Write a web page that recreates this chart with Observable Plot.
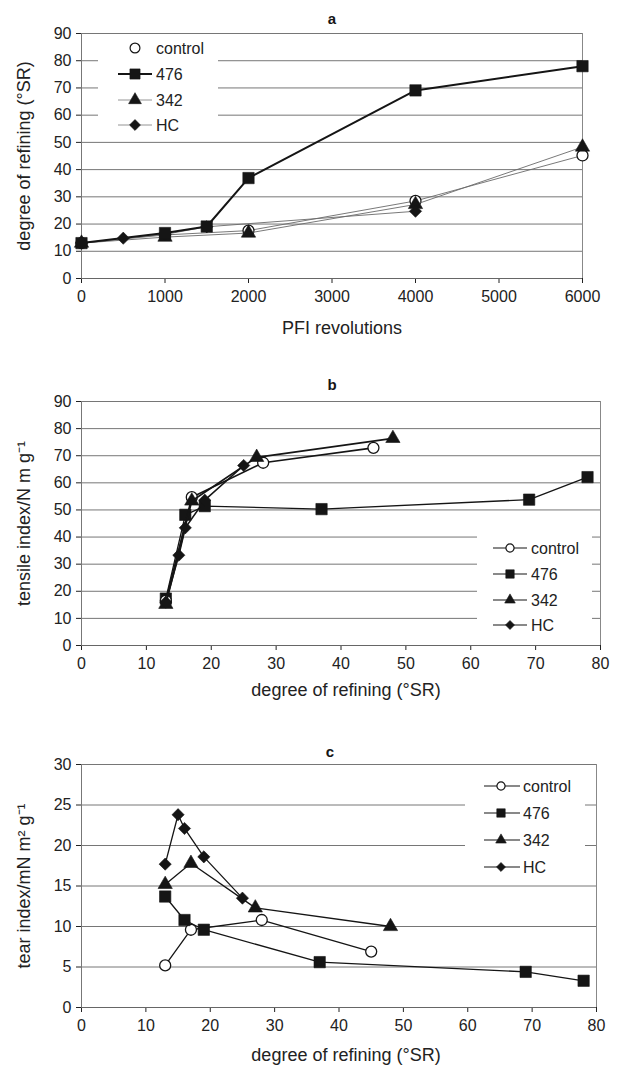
<!DOCTYPE html>
<html><head><meta charset="utf-8">
<script src="https://cdn.jsdelivr.net/npm/d3@7"></script>
<script src="https://cdn.jsdelivr.net/npm/@observablehq/plot@0.6"></script>
<style>
body{margin:0;background:#fff}
#wrap{position:relative;width:618px;height:1072px;font-family:"Liberation Sans",Arial,sans-serif}
#wrap svg{position:absolute;left:0}
</style>
</head><body><div id="wrap"></div>
<script>
// ---------- data ----------
const seriesNames = ["control", "476", "342", "HC"];

// panel a: PFI revolutions vs degree of refining (°SR)
const aTicksX = [0, 1000, 2000, 3000, 4000, 5000, 6000];
const aTicksY = [0, 10, 20, 30, 40, 50, 60, 70, 80, 90];
const aControl = [[0, 13], [1000, 16], [2000, 17.6], [4000, 28.5], [6000, 45.2]];
const a476 = [[0, 13], [1000, 16.7], [1500, 19.1], [2000, 36.9], [4000, 69.1], [6000, 78]];
const a342 = [[0, 13], [1000, 15.2], [2000, 16.7], [4000, 27.2], [6000, 48.3]];
const aHC = [[0, 13], [500, 14.8], [1000, 16.2], [1500, 19], [4000, 24.7]];

// panel b: degree of refining vs tensile index
const bTicksX = [0, 10, 20, 30, 40, 50, 60, 70, 80];
const bTicksY = [0, 10, 20, 30, 40, 50, 60, 70, 80, 90];
const bControl = [[13, 16.5], [17, 54.7], [28, 67.4], [45, 72.9]];
const b476 = [[13, 17.3], [16, 48.2], [19, 51.4], [37, 50.3], [69, 53.8], [78, 62.1]];
const b342 = [[13, 15.2], [17, 53.3], [27, 69.4], [48, 76.4]];
const bHC = [[13, 16], [15, 33.3], [16, 43.4], [19, 53.6], [25, 66.4]];

// panel c: degree of refining vs tear index
const cTicksX = [0, 10, 20, 30, 40, 50, 60, 70, 80];
const cTicksY = [0, 5, 10, 15, 20, 25, 30];
const cControl = [[13, 5.2], [17, 9.6], [28, 10.8], [45, 6.9]];
const c476 = [[13, 13.7], [16, 10.8], [19, 9.6], [37, 5.6], [69, 4.4], [78, 3.3]];
const c342 = [[13, 15.2], [17, 17.8], [27, 12.3], [48, 10.0]];
const cHC = [[13, 17.7], [15, 23.8], [16, 22.1], [19, 18.6], [25, 13.5]];

// ---------- styling ----------
const FONT = "'Liberation Sans', Arial, sans-serif";
const INK = "#151515";
const GRID = "#767676";
const sym = {control: {symbol: "circle", r: 5.5, open: true},
             "476": {symbol: "square", r: 6.4},
             "342": {symbol: "triangle", r: 5.3},
             HC: {symbol: "diamond2", r: 5.5}};

function seriesMarks(name, data, lineStroke, lineWidth) {
  const s = sym[name];
  const marks = [];
  if (lineStroke) marks.push(Plot.line(data, {x: d => d[0], y: d => d[1], stroke: lineStroke, strokeWidth: lineWidth}));
  marks.push(Plot.dot(data, {x: d => d[0], y: d => d[1], symbol: s.symbol, r: s.r,
    fill: s.open ? "white" : INK, stroke: INK, strokeWidth: s.open ? 1.3 : 0.6}));
  return marks;
}

function panel(o) {
  const xMax = o.ticksX[o.ticksX.length - 1];
  const xMin = o.ticksX[0];
  const gridVals = o.ticksY.filter(d => d > 0);
  return Plot.plot({
    width: 618, height: o.height,
    marginTop: o.mt, marginBottom: o.mb, marginLeft: o.ml, marginRight: o.mr,
    style: {fontFamily: FONT, fontSize: "16px", color: "#222", background: "white", overflow: "visible"},
    x: {domain: [xMin, xMax], ticks: o.ticksX, tickSize: 5, tickPadding: 7, label: null, tickFormat: d => String(d)},
    y: {domain: [o.ticksY[0], o.ticksY[o.ticksY.length - 1]], ticks: o.ticksY, tickSize: 5, tickPadding: 5, label: null, tickFormat: d => String(d)},
    marks: [
      Plot.ruleY(gridVals, {stroke: GRID, strokeWidth: 1}),
      Plot.ruleX([xMax], {stroke: "#888", strokeWidth: 1}),
      Plot.ruleX([xMin], {stroke: "#777", strokeWidth: 1}),
      Plot.ruleY([o.ticksY[0]], {stroke: "#666", strokeWidth: 1}),
      ...o.series.flatMap(s => seriesMarks(s.name, s.data, s.stroke, s.width)),
      Plot.text([o.title], {text: d => d, frameAnchor: "top", dy: o.titleDy, dx: o.titleDx, fontWeight: "bold", fontSize: 15, fill: INK}),
      Plot.text([o.xLabel], {text: d => d, frameAnchor: "bottom", dy: o.xLabelDy, dx: o.xLabelDx, fontSize: 18, fill: "#222"}),
      Plot.text([o.yLabel], {text: d => d, frameAnchor: "left", textAnchor: "middle", rotate: -90, dx: -57, fontSize: 18, fill: "#222"})
    ]
  });
}

const wrap = document.getElementById("wrap");

const pa = panel({
  height: 350, mt: 33, mb: 72, ml: 81, mr: 36,
  ticksX: aTicksX, ticksY: aTicksY, title: "a", titleDy: -20, titleDx: 0,
  xLabel: "PFI revolutions", xLabelDy: 55, xLabelDx: 10,
  yLabel: "degree of refining (°SR)",
  series: [
    {name: "control", data: aControl, stroke: "#6a6a6a", width: 0.9},
    {name: "342", data: a342, stroke: "#6a6a6a", width: 0.9},
    {name: "HC", data: aHC, stroke: "#6a6a6a", width: 0.9},
    {name: "476", data: a476, stroke: INK, width: 2}
  ]
});
pa.style.top = "0px";
wrap.appendChild(pa);

const pb = panel({
  height: 360, mt: 51, mb: 65, ml: 81, mr: 18,
  ticksX: bTicksX, ticksY: bTicksY, title: "b", titleDy: -22, titleDx: -9,
  xLabel: "degree of refining (°SR)", xLabelDy: 50, xLabelDx: 5,
  yLabel: "tensile index/N m g\u207B\u00B9",
  series: [
    {name: "476", data: b476, stroke: INK, width: 1.3},
    {name: "control", data: bControl, stroke: INK, width: 1.6},
    {name: "342", data: b342, stroke: INK, width: 1.6},
    {name: "HC", data: bHC, stroke: INK, width: 1.6}
  ]
});
pb.style.top = "350px";
wrap.appendChild(pb);

const pc = panel({
  height: 362, mt: 54, mb: 65, ml: 81, mr: 22,
  ticksX: cTicksX, ticksY: cTicksY, title: "c", titleDy: -18, titleDx: -9,
  xLabel: "degree of refining (°SR)", xLabelDy: 53, xLabelDx: 7,
  yLabel: "tear index/mN m\u00B2 g\u207B\u00B9",
  series: [
    {name: "control", data: cControl, stroke: INK, width: 1.3},
    {name: "476", data: c476, stroke: INK, width: 1.3},
    {name: "342", data: c342, stroke: INK, width: 1.3},
    {name: "HC", data: cHC, stroke: INK, width: 1.3}
  ]
});
pc.style.top = "710px";
wrap.appendChild(pc);

// ---------- legends (HTML overlays) ----------
const d3sym = {circle: d3.symbolCircle, square: d3.symbolSquare, triangle: d3.symbolTriangle, diamond2: d3.symbolDiamond2};
function addLegend(cfg) {
  const svg = d3.select(wrap).append("svg")
    .style("left", cfg.left + "px").style("top", cfg.top + "px")
    .attr("width", cfg.w).attr("height", cfg.h);
  svg.append("rect").attr("width", cfg.w).attr("height", cfg.h).attr("fill", "white");
  seriesNames.forEach((name, i) => {
    const y = cfg.rows[i] - cfg.top;
    const ls = cfg.lines[i];
    if (ls) svg.append("line").attr("x1", cfg.lx0 - cfg.left).attr("x2", cfg.lx1 - cfg.left)
      .attr("y1", y).attr("y2", y).attr("stroke", ls.stroke).attr("stroke-width", ls.width);
    const s = sym[name];
    svg.append("path").attr("transform", `translate(${cfg.mx - cfg.left},${y})`)
      .attr("d", d3.symbol(d3sym[s.symbol], Math.PI * s.r * s.r * cfg.scale)())
      .attr("fill", s.open ? "white" : INK).attr("stroke", INK).attr("stroke-width", s.open ? 1.2 : 0.6);
    svg.append("text").attr("x", cfg.tx - cfg.left).attr("y", y).attr("dy", "0.36em")
      .attr("font-family", FONT).attr("font-size", 16).attr("fill", "#222").text(name);
  });
}
addLegend({left: 98, top: 35, w: 120, h: 100, rows: [48, 74, 100, 125], lx0: 118, lx1: 152, mx: 135, tx: 156, scale: 0.8,
  lines: [null, {stroke: INK, width: 2}, {stroke: "#888", width: 0.9}, {stroke: "#888", width: 0.9}]});
addLegend({left: 477, top: 527, w: 115, h: 112, rows: [548, 574, 600, 625], lx0: 493, lx1: 527, mx: 510, tx: 531, scale: 0.55,
  lines: [1, 2, 3, 4].map(() => ({stroke: INK, width: 1.2}))});
addLegend({left: 465, top: 771, w: 120, h: 110, rows: [786, 813, 840, 867], lx0: 484, lx1: 520, mx: 501, tx: 523, scale: 0.55,
  lines: [1, 2, 3, 4].map(() => ({stroke: INK, width: 1.2}))});
</script>
</body></html>
